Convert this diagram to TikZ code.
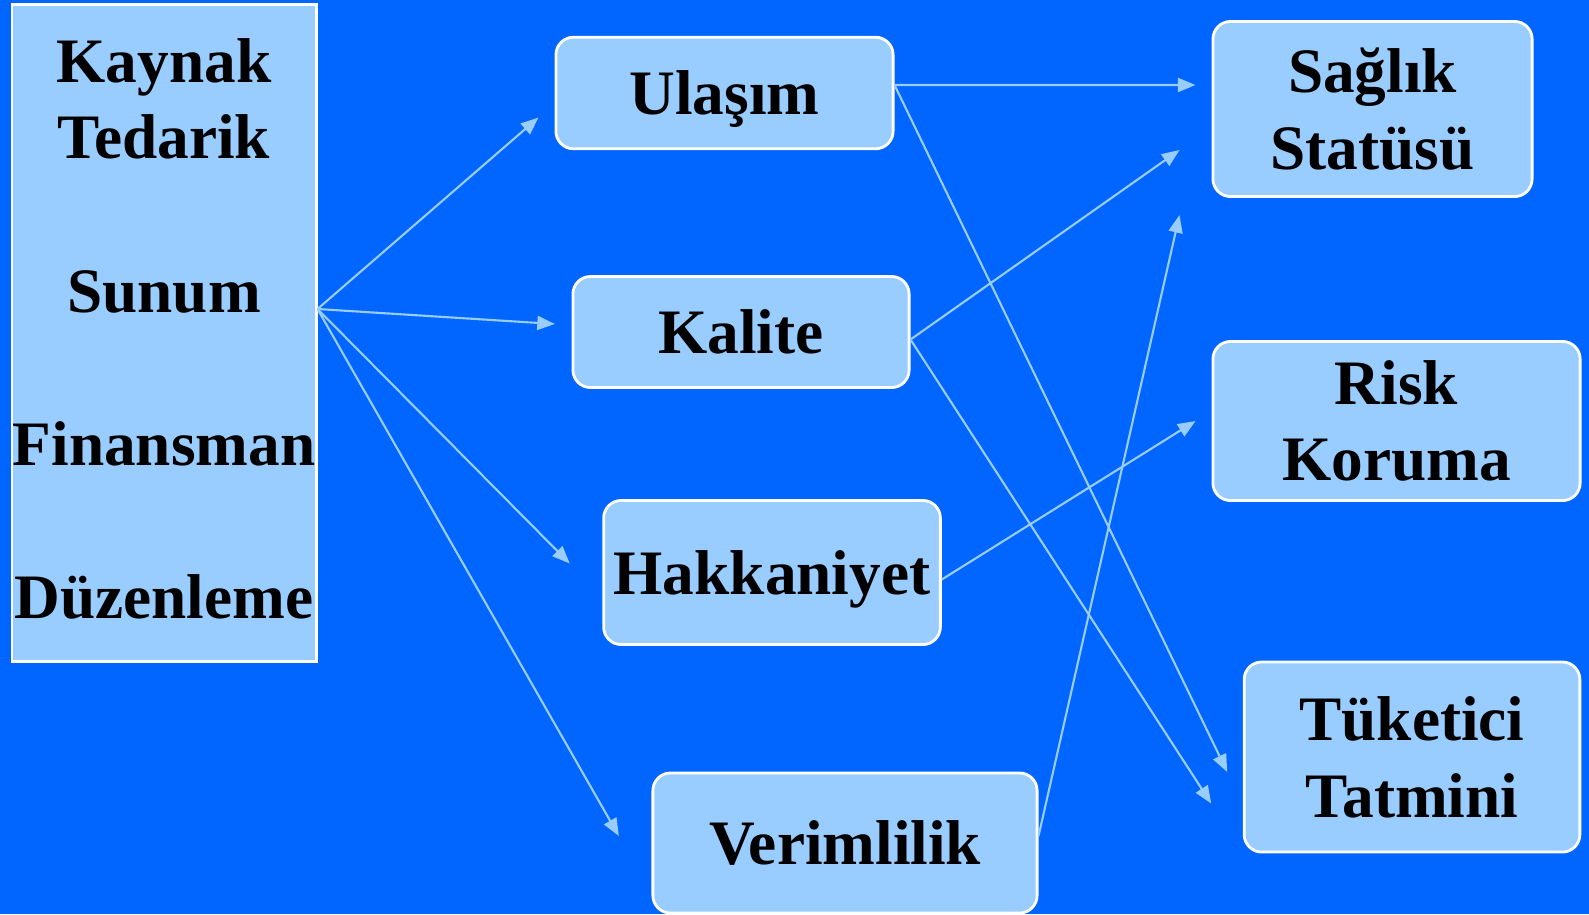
\documentclass[tikz,border=0pt]{standalone}
\usepackage{fontspec}
\setmainfont{Liberation Serif}
\usetikzlibrary{arrows.meta}
\definecolor{zemin}{HTML}{0066FF}
\definecolor{acik}{HTML}{99CCFF}

\begin{document}
\begin{tikzpicture}[x=0.01cm, y=-0.01cm,
        kutu/.style={draw=white, line width=0.8pt, fill=acik, rounded corners=5pt, inner sep=0pt, align=center, font=\fontsize{18}{21.8}\selectfont\bfseries},
        tek/.style={kutu, text depth=0pt},
        ok/.style={draw=acik, line width=0.6pt, -{Triangle[length=5pt,width=4pt]}}]
        \fill [zemin] (0,0) rectangle (1589,914);
        \useasboundingbox (0,0) rectangle (1589,914);

        \node [kutu, sharp corners, text depth=2.5pt, minimum width=3.04cm, minimum height=6.56cm] (kaynak) at (164,333) {Kaynak\\Tedarik\\[21.8pt]Sunum\\[21.8pt]Finansman\\[21.8pt]Düzenleme};
        \node [tek, minimum width=3.37cm, minimum height=1.115cm] (ulasim) at (724.5,93) {Ulaşım};
        \node [tek, minimum width=3.36cm, minimum height=1.11cm] (kalite) at (741,332) {Kalite};
        \node [tek, minimum width=3.365cm, minimum height=1.44cm] (hakkaniyet) at (772,572.5) {Hakkaniyet};
        \node [tek, minimum width=3.84cm, minimum height=1.4cm] (verimlilik) at (845,843) {Verimlilik};
        \node [kutu, minimum width=3.19cm, minimum height=1.75cm] (saglik) at (1372.5,109) {Sağlık\\Statüsü};
        \node [kutu, minimum width=3.67cm, minimum height=1.59cm] (risk) at (1396.5,421) {Risk\\Koruma};
        \node [kutu, minimum width=3.355cm, minimum height=1.9cm] (tuketici) at (1412,757) {Tüketici\\Tatmini};

        \coordinate (cikis) at ([yshift=0.24cm]kaynak.east);
        \draw [ok] (cikis) -- ([xshift=-0.16cm, yshift=-0.245cm]ulasim.west);
        \draw [ok] (cikis) -- ([xshift=-0.166cm, yshift=0.08cm]kalite.west);
        \draw [ok] (cikis) -- ([xshift=-0.325cm, yshift=0.09cm]hakkaniyet.west);
        \draw [ok] (cikis) -- ([xshift=-0.326cm, yshift=0.07cm]verimlilik.west);

        \draw [ok] ([yshift=0.08cm]ulasim.east) -- ([xshift=-0.16cm, yshift=0.24cm]saglik.west);
        \draw [ok] ([yshift=0.08cm]ulasim.east) -- ([xshift=-0.155cm, yshift=-0.15cm]tuketici.west);
        \draw [ok] ([yshift=-0.075cm]kalite.east) -- ([xshift=-0.32cm, yshift=-0.41cm]saglik.west);
        \draw [ok] ([yshift=-0.075cm]kalite.east) -- ([xshift=-0.315cm, yshift=-0.465cm]tuketici.west);
        \draw [ok] ([yshift=-0.07cm]hakkaniyet.east) -- ([xshift=-0.16cm]risk.west);
        \draw [ok] ([yshift=0.07cm]verimlilik.east) -- ([xshift=-0.32cm, yshift=-1.06cm]saglik.west);
    \end{tikzpicture}
\end{document}
